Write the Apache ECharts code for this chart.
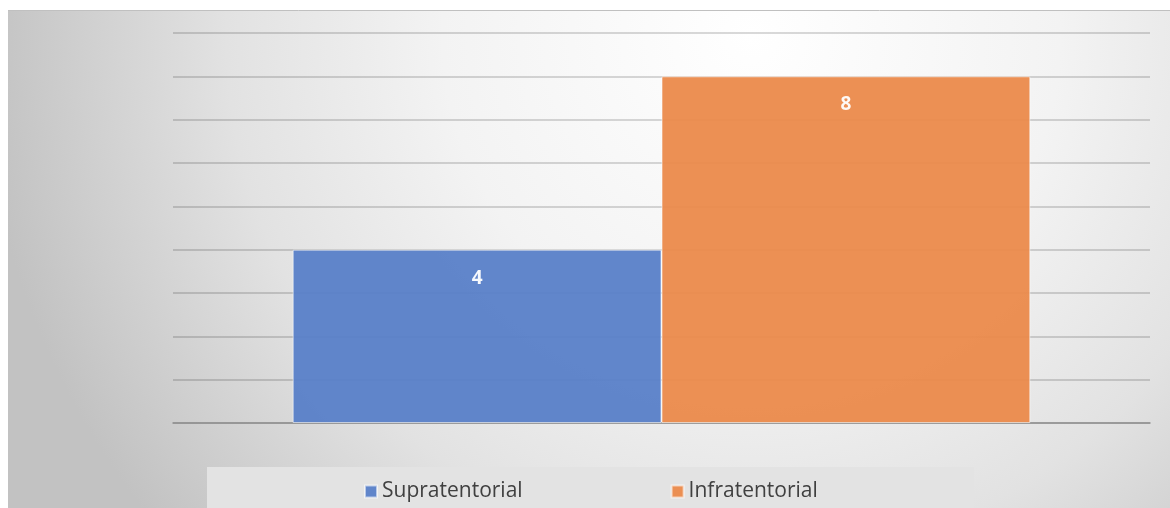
<!DOCTYPE html>
<html>
<head>
<meta charset="utf-8">
<script src="https://cdn.jsdelivr.net/npm/echarts@6/dist/echarts.min.js"></script>
<style>
  html, body { margin: 0; padding: 0; background: #fff; }
  #main { width: 1170px; height: 508px; }
</style>
</head>
<body>
<div id="main"></div>
<script>
const categories = [''];
const seriesNames = ['Supratentorial', 'Infratentorial'];
const supraValues = [4];
const infraValues = [8];
const seriesColors = ['#5880c8', '#eb8a4b'];

const chartDom = document.getElementById('main');
const myChart = echarts.init(chartDom);

const valueLabel = {
  show: true,
  position: 'insideTop',
  distance: 19,
  color: '#fff',
  fontWeight: 'bold',
  fontSize: 19,
  fontFamily: 'Open Sans'
};

const option = {
  animation: false,
  backgroundColor: '#fff',
  graphic: [
    {
      type: 'rect',
      z: -10,
      silent: true,
      shape: { x: 8, y: 10, width: 1162, height: 498 },
      style: {
        fill: {
          type: 'radial',
          x: 0.64, y: 0.05, r: 1.55,
          colorStops: [
            { offset: 0, color: '#ffffff' },
            { offset: 0.4, color: '#f3f3f3' },
            { offset: 0.68, color: '#e2e2e2' },
            { offset: 1, color: '#c2c2c2' }
          ]
        }
      }
    },
    {
      type: 'line',
      z: -9,
      silent: true,
      shape: { x1: 8, y1: 10.5, x2: 1170, y2: 10.5 },
      style: { stroke: '#c0c0c0', lineWidth: 1 }
    }
  ],
  grid: { left: 173, right: 20, top: 33, bottom: 85 },
  legend: {
    data: seriesNames,
    left: 207,
    top: 467,
    padding: [14, 156, 14, 157],
    backgroundColor: '#e3e3e3',
    itemWidth: 12,
    itemHeight: 12,
    itemGap: 148,
    icon: 'rect',
    textStyle: { fontSize: 21, color: '#404040', fontFamily: 'Open Sans' }
  },
  xAxis: {
    type: 'category',
    data: categories,
    axisLine: { lineStyle: { color: '#8e8e8e', width: 1.5 } },
    axisTick: { show: false },
    axisLabel: { show: false }
  },
  yAxis: {
    type: 'value',
    min: 0,
    max: 9,
    interval: 1,
    axisLabel: { show: false },
    axisLine: { show: false },
    axisTick: { show: false },
    splitLine: { lineStyle: { color: 'rgba(0,0,0,0.2)', width: 1.5 } }
  },
  series: [
    {
      name: seriesNames[0],
      type: 'bar',
      data: supraValues,
      barGap: '0%',
      barCategoryGap: '24.5%',
      itemStyle: { color: seriesColors[0], opacity: 0.95, borderColor: 'rgba(255,255,255,0.6)', borderWidth: 1 },
      label: valueLabel
    },
    {
      name: seriesNames[1],
      type: 'bar',
      data: infraValues,
      itemStyle: { color: seriesColors[1], opacity: 0.95, borderColor: 'rgba(255,255,255,0.6)', borderWidth: 1 },
      label: valueLabel
    }
  ]
};

option && myChart.setOption(option);
</script>
</body>
</html>
